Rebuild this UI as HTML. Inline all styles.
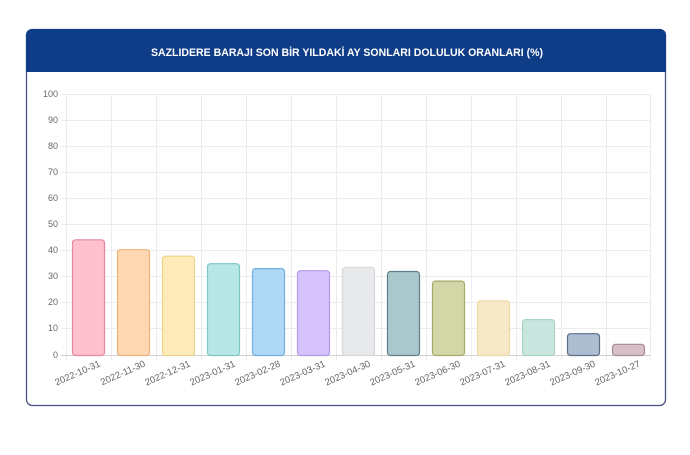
<!DOCTYPE html>
<html><head><meta charset="utf-8"><style>
body{margin:0;background:#fff;width:690px;height:450px;overflow:hidden;font-family:"Liberation Sans",sans-serif}
</style></head><body>
<svg width="690" height="450" xmlns="http://www.w3.org/2000/svg" font-family="Liberation Sans, sans-serif">
<rect x="26.5" y="29.5" width="639" height="376" rx="6" fill="#fff" stroke="#4a5283" stroke-width="1.3"/>
<path d="M26 35 a6 6 0 0 1 6 -6 h628 a6 6 0 0 1 6 6 v37 h-640z" fill="#0f3c87"/>
<text x="347" y="56" text-anchor="middle" fill="#fff" font-size="11" font-weight="bold" textLength="392" lengthAdjust="spacingAndGlyphs">SAZLIDERE BARAJI SON BİR YILDAKİ AY SONLARI DOLULUK ORANLARI (%)</text>
<g stroke="#ececec" stroke-width="1">
<line x1="61" y1="94.5" x2="650" y2="94.5"/><line x1="61" y1="120.5" x2="650" y2="120.5"/><line x1="61" y1="146.5" x2="650" y2="146.5"/><line x1="61" y1="172.5" x2="650" y2="172.5"/><line x1="61" y1="198.5" x2="650" y2="198.5"/><line x1="61" y1="224.5" x2="650" y2="224.5"/><line x1="61" y1="250.5" x2="650" y2="250.5"/><line x1="61" y1="276.5" x2="650" y2="276.5"/><line x1="61" y1="302.5" x2="650" y2="302.5"/><line x1="61" y1="328.5" x2="650" y2="328.5"/>
<line x1="66.5" y1="94" x2="66.5" y2="360"/><line x1="111.5" y1="94" x2="111.5" y2="360"/><line x1="156.5" y1="94" x2="156.5" y2="360"/><line x1="201.5" y1="94" x2="201.5" y2="360"/><line x1="246.5" y1="94" x2="246.5" y2="360"/><line x1="291.5" y1="94" x2="291.5" y2="360"/><line x1="336.5" y1="94" x2="336.5" y2="360"/><line x1="381.5" y1="94" x2="381.5" y2="360"/><line x1="426.5" y1="94" x2="426.5" y2="360"/><line x1="471.5" y1="94" x2="471.5" y2="360"/><line x1="516.5" y1="94" x2="516.5" y2="360"/><line x1="561.5" y1="94" x2="561.5" y2="360"/><line x1="606.5" y1="94" x2="606.5" y2="360"/><line x1="650.5" y1="94" x2="650.5" y2="360"/>
</g>
<line x1="61" y1="355.5" x2="650" y2="355.5" stroke="#d0d0d0"/>
<g font-size="9" fill="#666" text-anchor="end">
<text x="58" y="97">100</text><text x="58" y="123">90</text><text x="58" y="149">80</text><text x="58" y="175">70</text><text x="58" y="201">60</text><text x="58" y="227">50</text><text x="58" y="253">40</text><text x="58" y="279">30</text><text x="58" y="305">20</text><text x="58" y="331">10</text><text x="58" y="358">0</text>
</g>
<g stroke-width="1.2">
<rect x="72.5" y="239.8" width="32" height="115.7" rx="3" fill="#ffc1cf" stroke="#e8879c"/>
<rect x="117.5" y="249.7" width="32" height="105.8" rx="3" fill="#ffd8b3" stroke="#f0b07a"/>
<rect x="162.5" y="256.2" width="32" height="99.3" rx="3" fill="#ffebba" stroke="#f0d28a"/>
<rect x="207.5" y="263.7" width="32" height="91.8" rx="3" fill="#b9e6e6" stroke="#7cc7c7"/>
<rect x="252.5" y="268.6" width="32" height="86.9" rx="3" fill="#afd8f7" stroke="#6fb0de"/>
<rect x="297.5" y="270.7" width="32" height="84.8" rx="3" fill="#d5c2fd" stroke="#b39ae8"/>
<rect x="342.5" y="267.3" width="32" height="88.2" rx="3" fill="#e8e9eb" stroke="#d6d7da"/>
<rect x="387.5" y="271.5" width="32" height="84" rx="3" fill="#a9c8cc" stroke="#5e7f88"/>
<rect x="432.5" y="281.1" width="32" height="74.4" rx="3" fill="#d3d6a6" stroke="#a5aa6c"/>
<rect x="477.5" y="300.9" width="32" height="54.6" rx="3" fill="#f8e9c6" stroke="#ecd9a8"/>
<rect x="522.5" y="319.6" width="32" height="35.9" rx="3" fill="#c8e6de" stroke="#a8d3c7"/>
<rect x="567.5" y="333.7" width="32" height="21.8" rx="3" fill="#aebdd0" stroke="#5d6f8c"/>
<rect x="612.5" y="344.3" width="32" height="11.2" rx="3" fill="#d6c0c6" stroke="#a88a94"/>
</g>
<g font-size="9.5" fill="#666" text-anchor="end">
<text transform="translate(101,366) rotate(-24)">2022-10-31</text>
<text transform="translate(146,366) rotate(-24)">2022-11-30</text>
<text transform="translate(191,366) rotate(-24)">2022-12-31</text>
<text transform="translate(236,366) rotate(-24)">2023-01-31</text>
<text transform="translate(281,366) rotate(-24)">2023-02-28</text>
<text transform="translate(326,366) rotate(-24)">2023-03-31</text>
<text transform="translate(371,366) rotate(-24)">2023-04-30</text>
<text transform="translate(416,366) rotate(-24)">2023-05-31</text>
<text transform="translate(461,366) rotate(-24)">2023-06-30</text>
<text transform="translate(506,366) rotate(-24)">2023-07-31</text>
<text transform="translate(551,366) rotate(-24)">2023-08-31</text>
<text transform="translate(596,366) rotate(-24)">2023-09-30</text>
<text transform="translate(641,366) rotate(-24)">2023-10-27</text>
</g>
</svg>
</body></html>
